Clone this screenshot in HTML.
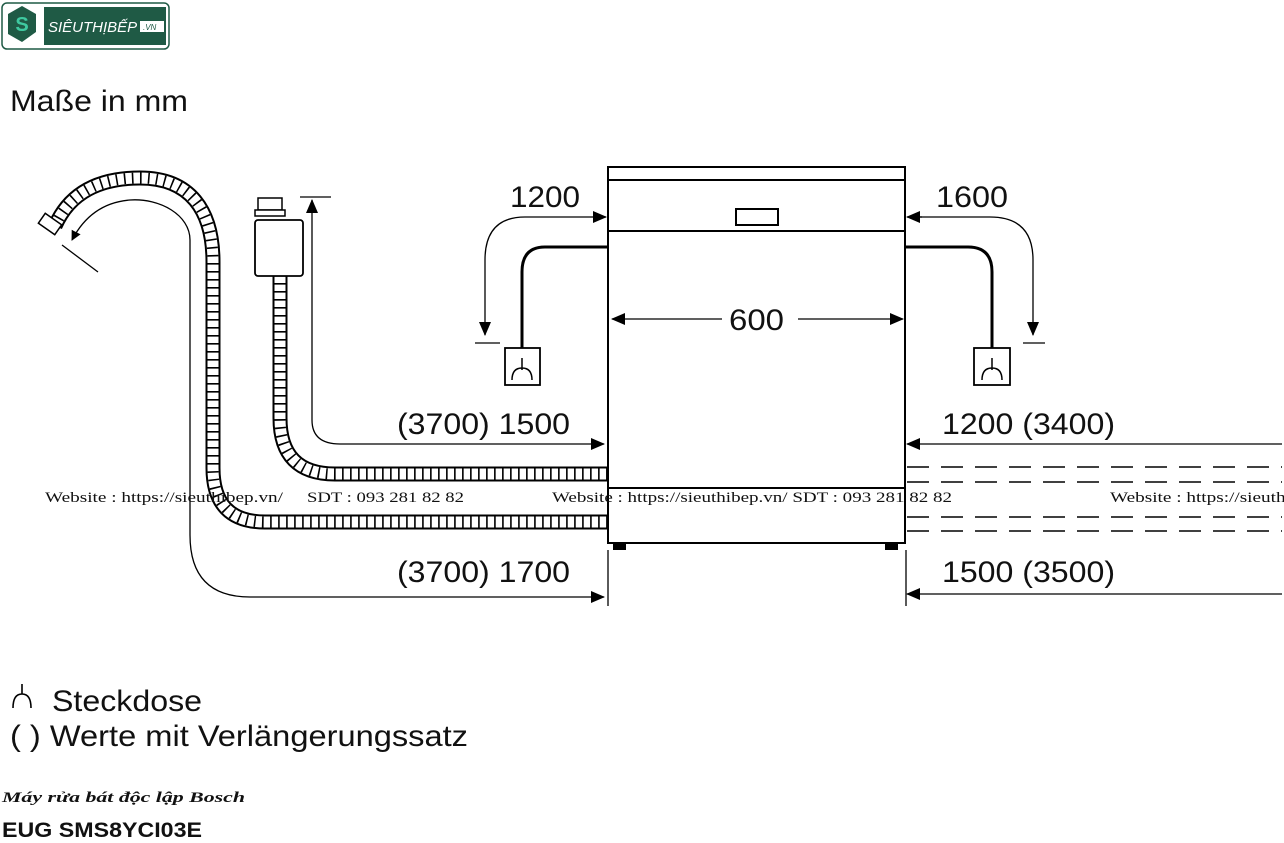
<!DOCTYPE html>
<html><head><meta charset="utf-8"><style>
body{margin:0;width:1284px;height:843px;background:#fff;overflow:hidden;position:relative;font-family:"Liberation Sans",sans-serif}
</style></head><body>
<svg width="1284" height="843" style="position:absolute;left:0;top:0" font-family="Liberation Sans, sans-serif">
<defs>
<marker id="a" markerWidth="10" markerHeight="10" refX="9" refY="5" orient="auto" markerUnits="userSpaceOnUse"><path d="M0,0 L10,5 L0,10 Z" fill="#000"/></marker>
<marker id="b" markerWidth="14" markerHeight="12" refX="13" refY="6" orient="auto" markerUnits="userSpaceOnUse"><path d="M0,0 L14,6 L0,12 Z" fill="#000"/></marker>
</defs>
<!-- logo -->
<rect x="2" y="3" width="167" height="46" rx="5" fill="#fff" stroke="#1f5a45" stroke-width="1.5"/>
<polygon points="22,6 36,14 36,32 22,42 8,34 8,14" fill="#1f5a45"/>
<text x="22" y="31" font-size="20" font-weight="bold" fill="#3fc9a0" text-anchor="middle">S</text>
<rect x="44" y="7" width="122" height="38" fill="#1f5a45"/>
<text x="48" y="32" font-size="15" font-style="italic" fill="#fff">SIÊUTHỊBẾP</text>
<rect x="140" y="21" width="24" height="11" fill="#fff"/>
<text x="143" y="30" font-size="8" font-style="italic" fill="#1f5a45">.VN</text>
<g fill="none">
<path d="M55 226 C70 192,100 178,140 178 C190 178,213 210,213 262 L213 468 Q213 522 265 522 L607 522" stroke="#000" stroke-width="15"/>
<path d="M55 226 C70 192,100 178,140 178 C190 178,213 210,213 262 L213 468 Q213 522 265 522 L607 522" stroke="#fff" stroke-width="11"/>
<path d="M55 226 C70 192,100 178,140 178 C190 178,213 210,213 262 L213 468 Q213 522 265 522 L607 522" stroke="#000" stroke-width="11" stroke-dasharray="1.6 6.4"/>
<path d="M280 275 L280 418 Q280 474 335 474 L607 474" stroke="#000" stroke-width="15"/>
<path d="M280 275 L280 418 Q280 474 335 474 L607 474" stroke="#fff" stroke-width="11"/>
<path d="M280 275 L280 418 Q280 474 335 474 L607 474" stroke="#000" stroke-width="11" stroke-dasharray="1.6 6.4"/>
<path d="M190 240 C190 215,160 198,130 200 C105 202,85 215,72 240" stroke="#000" stroke-width="1.3" marker-end="url(#a)"/>
<path d="M190 240 L190 535 Q190 597 250 597 L604 597" stroke="#000" stroke-width="1.3" marker-end="url(#b)"/>
<line x1="62" y1="245" x2="98" y2="272" stroke="#000" stroke-width="1.3"/>
<path d="M312 420 Q312 444 340 444 L604 444" stroke="#000" stroke-width="1.3" marker-end="url(#b)"/>
<line x1="312" y1="420" x2="312" y2="200" stroke="#000" stroke-width="1.3" marker-end="url(#b)"/>
<line x1="300" y1="197" x2="331" y2="197" stroke="#000" stroke-width="1.3"/>
</g>
<rect x="40" y="218" width="20" height="12" transform="rotate(35 50 224)" fill="#fff" stroke="#000" stroke-width="1.5"/>
<rect x="258" y="198" width="24" height="12" fill="#fff" stroke="#000" stroke-width="1.5"/>
<rect x="255" y="210" width="30" height="6" fill="#fff" stroke="#000" stroke-width="1.5"/>
<rect x="255" y="220" width="48" height="56" rx="3" fill="#fff" stroke="#000" stroke-width="1.8"/>
<g fill="none" stroke="#000" stroke-width="2">
<rect x="608" y="167" width="297" height="376"/>
<line x1="608" y1="180" x2="905" y2="180"/>
<line x1="608" y1="231" x2="905" y2="231"/>
<rect x="736" y="209" width="42" height="16"/>
<line x1="608" y1="488" x2="905" y2="488"/>
</g>
<rect x="613" y="543" width="13" height="7" fill="#000"/>
<rect x="885" y="543" width="13" height="7" fill="#000"/>
<line x1="722" y1="319" x2="612" y2="319" stroke="#000" stroke-width="1.3" marker-end="url(#b)"/>
<line x1="798" y1="319" x2="903" y2="319" stroke="#000" stroke-width="1.3" marker-end="url(#b)"/>
<g fill="none" stroke="#000">
<path d="M590 217 L525 217 Q485 217 485 260 L485 335" stroke-width="1.3" marker-end="url(#b)"/>
<line x1="590" y1="217" x2="606" y2="217" stroke-width="1.3" marker-end="url(#b)"/>
<line x1="475" y1="343" x2="500" y2="343" stroke-width="1.3"/>
<path d="M607 247 L545 247 Q522 247 522 272 L522 348" stroke-width="3"/>
<rect x="505" y="348" width="35" height="37" stroke-width="1.8"/>
<path d="M522 358 L522 370 M512 380 Q512 368 522 368 Q532 368 532 380" stroke-width="1.5"/>
<path d="M920 217 L990 217 Q1033 217 1033 260 L1033 335" stroke-width="1.3" marker-end="url(#b)"/>
<line x1="922" y1="217" x2="907" y2="217" stroke-width="1.3" marker-end="url(#b)"/>
<line x1="1023" y1="343" x2="1045" y2="343" stroke-width="1.3"/>
<path d="M905 247 L968 247 Q992 247 992 272 L992 348" stroke-width="3"/>
<rect x="974" y="348" width="36" height="37" stroke-width="1.8"/>
<path d="M992 358 L992 370 M982 380 Q982 368 992 368 Q1002 368 1002 380" stroke-width="1.5"/>
<line x1="1282" y1="444" x2="907" y2="444" stroke-width="1.3" marker-end="url(#b)"/>
<line x1="1282" y1="594" x2="907" y2="594" stroke-width="1.3" marker-end="url(#b)"/>
<g stroke-width="1.6" stroke-dasharray="22 12">
<line x1="907" y1="467" x2="1282" y2="467"/>
<line x1="907" y1="482" x2="1282" y2="482"/>
<line x1="907" y1="517" x2="1282" y2="517"/>
<line x1="907" y1="531" x2="1282" y2="531"/>
</g>
<line x1="608" y1="550" x2="608" y2="606" stroke-width="1.3"/>
<line x1="906" y1="550" x2="906" y2="606" stroke-width="1.3"/>
<path d="M22 684 L22 694 M13 708 Q13 694 22 694 Q31 694 31 708" stroke-width="1.6"/>
</g>
<g font-size="30" fill="#111" lengthAdjust="spacingAndGlyphs">
<text x="10" y="111" textLength="178" lengthAdjust="spacingAndGlyphs">Maße in mm</text>
<text x="510" y="207" textLength="70" lengthAdjust="spacingAndGlyphs">1200</text>
<text x="936" y="207" textLength="72" lengthAdjust="spacingAndGlyphs">1600</text>
<text x="729" y="330" textLength="55" lengthAdjust="spacingAndGlyphs">600</text>
<text x="397" y="434" textLength="173" lengthAdjust="spacingAndGlyphs">(3700) 1500</text>
<text x="397" y="582" textLength="173" lengthAdjust="spacingAndGlyphs">(3700) 1700</text>
<text x="942" y="434" textLength="173" lengthAdjust="spacingAndGlyphs">1200 (3400)</text>
<text x="942" y="582" textLength="173" lengthAdjust="spacingAndGlyphs">1500 (3500)</text>
<text x="52" y="711" textLength="150" lengthAdjust="spacingAndGlyphs">Steckdose</text>
<text x="10" y="746" textLength="458" lengthAdjust="spacingAndGlyphs">( ) Werte mit Verlängerungssatz</text>
</g>
<g font-family="Liberation Serif, serif" font-size="15" fill="#111">
<text x="45" y="502" textLength="238" lengthAdjust="spacingAndGlyphs">Website : https://sieuthibep.vn/</text>
<text x="307" y="502" textLength="157" lengthAdjust="spacingAndGlyphs">SDT : 093 281 82 82</text>
<text x="552" y="502" textLength="400" lengthAdjust="spacingAndGlyphs">Website : https://sieuthibep.vn/ SDT : 093 281 82 82</text>
<text x="1110" y="502" textLength="238" lengthAdjust="spacingAndGlyphs">Website : https://sieuthibep.vn/</text>
</g>
<text x="2" y="802" font-family="Liberation Serif, serif" font-size="15" font-style="italic" font-weight="bold" fill="#111" textLength="243" lengthAdjust="spacingAndGlyphs">Máy rửa bát độc lập Bosch</text>
<text x="2" y="837" font-size="21" font-weight="bold" fill="#111" textLength="200" lengthAdjust="spacingAndGlyphs">EUG SMS8YCI03E</text>
</svg>
</body></html>
